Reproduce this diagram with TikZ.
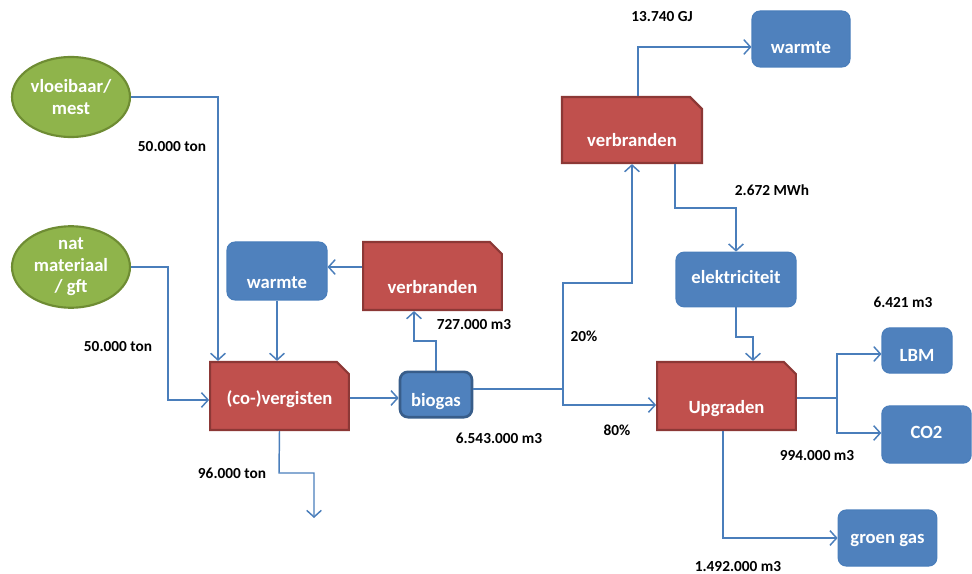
\documentclass[tikz,border=0pt]{standalone}
\usepackage{fontspec}
\setmainfont{Carlito}
\usetikzlibrary{shapes.misc,shapes.geometric,arrows.meta}

\definecolor{boxblue}{HTML}{4F81BD}
\definecolor{boxblueline}{HTML}{4A7EBB}
\definecolor{darkblueline}{HTML}{385D8A}
\definecolor{boxred}{HTML}{C0504D}
\definecolor{boxredline}{HTML}{8C3836}
\definecolor{boxgreen}{HTML}{8FB44B}
\definecolor{boxgreenline}{HTML}{6E8C33}
\definecolor{flowline}{HTML}{4A7EBB}

\begin{document}
\begin{tikzpicture}[
  x=0.75pt, y=-0.75pt,
  boxtext/.style={text=white, font=\fontsize{14}{16}\selectfont\bfseries, align=center, inner sep=0pt},
  tx/.style={text height=#1, text depth=0pt},
  bluebox/.style={boxtext, rectangle, rounded corners=6pt, fill=boxblue, draw=boxblueline, line width=0.8pt},
  redbox/.style={boxtext, chamfered rectangle, chamfered rectangle corners=north east,
    chamfered rectangle xsep=4.5pt, chamfered rectangle ysep=4.5pt,
    fill=boxred, draw=boxredline, line width=1.6pt},
  greenell/.style={boxtext, ellipse, fill=boxgreen, draw=boxgreenline, line width=1.6pt},
  lbl/.style={font=\fontsize{11.5}{13}\selectfont\bfseries, text=black, inner sep=0pt},
  arr/.style={draw=flowline, line width=1.1pt, -{Straight Barb[length=5pt,width=11pt,line width=1.1pt]}},
  flow/.style={draw=flowline, line width=1.1pt}
]
\useasboundingbox (0,0) rectangle (972,574);

% input materials
\node[greenell, minimum width=88.5pt, minimum height=60pt] (mest) at (71,97) {vloeibaar/\\mest};
\node[greenell, minimum width=88.5pt, minimum height=58.5pt] (nat) at (71,267) {nat\\materiaal\\/ gft};

% digestion and local heat loop
\node[redbox, tx=12.4pt, minimum width=104pt, minimum height=51pt] (cover) at (279.5,396) {(co-)vergisten};
\node[bluebox, tx=25.9pt, minimum width=75pt, minimum height=43.5pt] (warmteL) at (277,271) {warmte};
\node[redbox, tx=25.9pt, minimum width=104pt, minimum height=51pt] (verbrM) at (432.5,276) {verbranden};
\node[bluebox, tx=17.7pt, minimum width=54pt, minimum height=34pt, draw=darkblueline, line width=2pt] (biogas) at (436,394.5) {biogas};

% combustion branch
\node[redbox, tx=24.4pt, minimum width=105pt, minimum height=49.5pt] (verbrT) at (632,130) {verbranden};
\node[bluebox, tx=21.4pt, minimum width=73.5pt, minimum height=42pt] (warmteT) at (801,39) {warmte};
\node[bluebox, tx=5.6pt, minimum width=90pt, minimum height=41pt] (elek) at (736,279.5) {elektriciteit};

% upgrading branch
\node[redbox, tx=25.9pt, minimum width=104pt, minimum height=51pt] (upg) at (726.5,396) {Upgraden};
\node[bluebox, tx=16.2pt, minimum width=52.5pt, minimum height=34pt] (lbm) at (917,350.5) {LBM};
\node[bluebox, tx=5.6pt, minimum width=67pt, minimum height=43pt] (co2) at (926.5,434.5) {CO2};
\node[bluebox, tx=8.3pt, minimum width=74pt, minimum height=42pt] (groen) at (887.5,538) {groen gas};

% split points and free ends
\coordinate (split) at (563,389);
\coordinate (split2) at (837,398);
\coordinate (out) at (314,518);

% connectors
\draw[arr] (mest.east) -| (218,0 |- cover.north);
\draw[arr] (nat.east) -| (168,400) -- (cover.west |- 0,400);
\draw[arr] (warmteL.south) -- (warmteL.south |- cover.north);
\draw[arr] (verbrM.west |- 0,267) -- (warmteL.east |- 0,267);
\draw[arr] (cover.east |- 0,398) -- (biogas.west |- 0,398);
\draw[arr] (biogas.north) -- (436,341) -| (414,0 |- verbrM.south);
\draw[flow] (biogas.east |- 0,389) -- (split);
\draw[arr] (split) -- (563,283) -| (632,0 |- verbrT.south);
\draw[arr] (split) |- (upg.west |- 0,405);
\draw[arr] (638,0 |- verbrT.north) |- (warmteT.west |- 0,47);
\draw[arr] (675,0 |- verbrT.south) |- (736,208) -- (elek.north);
\draw[arr] (elek.south) -- (736,337) -| (753,0 |- upg.north);
\draw[flow] (upg.east |- 0,398) -- (split2);
\draw[arr] (split2) |- (lbm.west |- 0,354);
\draw[arr] (split2) |- (co2.west |- 0,433);
\draw[arr] (723,0 |- upg.south) |- (groen.west);
\draw[arr] (cover.south) -- (279,473) -| (out);

% quantities
\node[lbl] (q1) at (172,147) {50.000 ton};
\node[lbl] (q2) at (118,347) {50.000 ton};
\node[lbl] (q3) at (474,325) {727.000 m3};
\node[lbl] (q4) at (499,438) {6.543.000 m3};
\node[lbl] (q5) at (232,473) {96.000 ton};
\node[lbl] (q6) at (662,17) {13.740 GJ};
\node[lbl] (q7) at (772,190) {2.672 MWh};
\node[lbl] (q8) at (584,336) {20\%};
\node[lbl] (q9) at (617,430) {80\%};
\node[lbl] (q10) at (903,302) {6.421 m3};
\node[lbl] (q11) at (817,456) {994.000 m3};
\node[lbl] (q12) at (738,567) {1.492.000 m3};
\end{tikzpicture}
\end{document}
